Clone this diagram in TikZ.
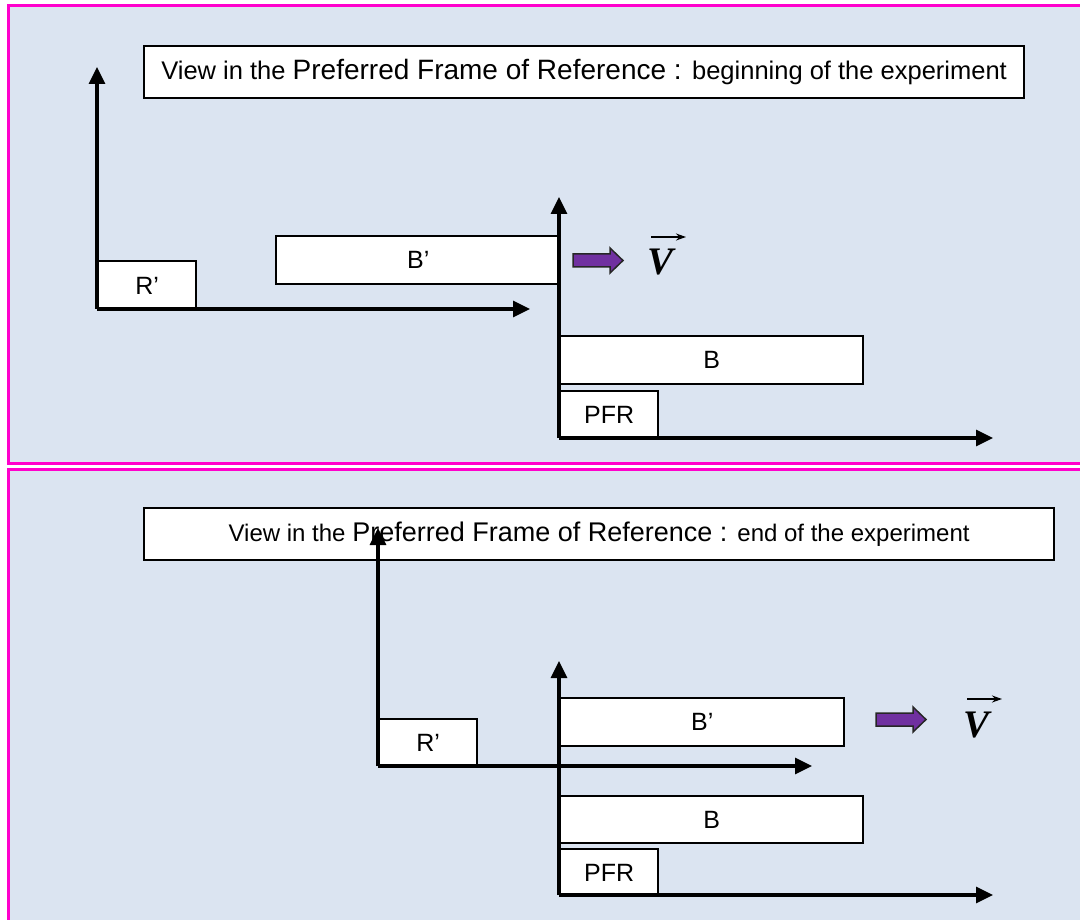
\documentclass[tikz,border=0pt]{standalone}
\usepackage{fontspec}
\setmainfont{Liberation Sans}
\newfontfamily\serifV{Liberation Serif}
\usetikzlibrary{arrows.meta}
\definecolor{panelbg}{RGB}{219,228,241}
\definecolor{panelpink}{RGB}{255,0,204}
\definecolor{vpurple}{RGB}{112,48,160}
\tikzset{
  panel/.style={draw=panelpink, fill=panelbg, line width=3pt},
  box/.style={draw=black, fill=white, line width=2.4pt, inner sep=0pt, anchor=north west,
    font=\fontsize{25}{28}\selectfont},
  titlebox/.style={draw=black, fill=white, line width=2.2pt, inner sep=0pt, anchor=north west},
  axis/.style={line width=3.3pt, -{Triangle[length=17pt,width=16pt]}},
  blockarrow/.style={fill=vpurple, draw=black!85, line width=1.5pt, line join=miter},
  vlabel/.style={inner sep=0pt, anchor=base west, font=\serifV\bfseries\itshape\fontsize{39}{40}\selectfont},
  vecarrow/.style={line width=1.5pt, -{Stealth[length=10pt,width=7pt]}},
}
\newcommand{\smallt}{\fontsize{24}{28}\selectfont}
\newcommand{\larget}{\fontsize{27}{30}\selectfont}
\newcommand{\smalltop}{\fontsize{25.5}{28}\selectfont}
\newcommand{\largetop}{\fontsize{28}{30}\selectfont}
\begin{document}
\begin{tikzpicture}[x=1pt,y=-1pt]
\useasboundingbox (0,0) rectangle (1080,920);
\clip (0,0) rectangle (1080,920);
\fill[white] (0,0) rectangle (1080,920);
% panels
\draw[panel] (8.7,6) rectangle (1090,463);
\draw[panel] (8.7,469) rectangle (1090,930);

% ---------- top panel ----------
\node[titlebox, minimum width=880pt, minimum height=52pt] (title1) at (143,45)
  {{\smalltop View in the }{\largetop Preferred Frame of Reference : }{\smalltop beginning of the experiment}};
\node[box, minimum width=98pt, minimum height=49pt] (rp1) at (97,260) {R’};
\node[box, minimum width=284pt, minimum height=48pt] (bp1) at (275,235) {B’};
\node[box, minimum width=303pt, minimum height=48pt] (b1) at (559,335) {B};
\node[box, minimum width=98pt, minimum height=48pt] (pfr1) at (559,390) {PFR};

\coordinate (o1) at (97,309);
\coordinate (o1y) at (97,67);
\coordinate (o1x) at (530,309);
\draw[axis] (o1) -- (o1y);
\draw[axis] (o1) -- (o1x);
\coordinate (p1) at (559,438);
\coordinate (p1y) at (559,197);
\coordinate (p1x) at (993,438);
\draw[axis] (p1) -- (p1y);
\draw[axis] (p1) -- (p1x);

\draw[blockarrow] (573,254) -- (610,254) -- (610,248) -- (623,260.5) -- (610,273) -- (610,267) -- (573,267) -- cycle;
\node[vlabel] (v1) at (647,275) {V};
\coordinate (v1a) at (651,237);
\coordinate (v1b) at (686,237);
\draw[vecarrow] (v1a) -- (v1b);

% ---------- bottom panel ----------
\node[titlebox, minimum width=910pt, minimum height=52pt] (title2) at (143,507)
  {{\smallt View in the }{\larget Preferred Frame of Reference : }{\smallt end of the experiment}};
\node[box, minimum width=98pt, minimum height=48pt] (rp2) at (378,718) {R’};
\node[box, minimum width=284pt, minimum height=48pt] (bp2) at (559,697) {B’};
\node[box, minimum width=303pt, minimum height=47pt] (b2) at (559,795) {B};
\node[box, minimum width=98pt, minimum height=47pt] (pfr2) at (559,848) {PFR};

\coordinate (o2) at (378,766);
\coordinate (o2y) at (378,528);
\coordinate (o2x) at (812,766);
\draw[axis] (o2) -- (o2y);
\draw[axis] (o2) -- (o2x);
\coordinate (p2) at (559,895);
\coordinate (p2y) at (559,661);
\coordinate (p2x) at (993,895);
\draw[axis] (p2) -- (p2y);
\draw[axis] (p2) -- (p2x);

\draw[blockarrow] (876,713) -- (913,713) -- (913,707) -- (926,719.5) -- (913,732) -- (913,726) -- (876,726) -- cycle;
\node[vlabel] (v2) at (963,737) {V};
\coordinate (v2a) at (967,699);
\coordinate (v2b) at (1002,699);
\draw[vecarrow] (v2a) -- (v2b);
\end{tikzpicture}
\end{document}
